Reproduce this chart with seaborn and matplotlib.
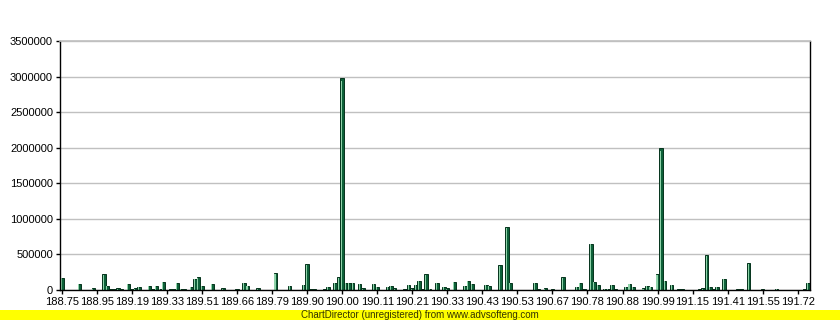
import matplotlib
matplotlib.use("Agg")
import matplotlib.pyplot as plt
from matplotlib.patches import Rectangle
import seaborn as sns
import numpy as np
import pandas as pd

# ---- data (one bar per category, label every 10th) ----
tick_labels = ["188.75", "188.95", "189.19", "189.33", "189.51", "189.66", "189.79",
               "189.90", "190.00", "190.11", "190.21", "190.33", "190.43", "190.53",
               "190.67", "190.78", "190.88", "190.99", "191.15", "191.41", "191.55",
               "191.72"]

values = [
    165000, 0, 0, 0, 0, 84000, 0, 0, 0, 25000,
    0, 0, 220000, 52000, 8000, 8000, 25000, 8000, 5000, 80000,
    8000, 28000, 38000, 5000, 5000, 52000, 8000, 52000, 12000, 108000,
    5000, 8000, 8000, 94000, 12000, 8000, 0, 38000, 150000, 178000,
    52000, 0, 0, 80000, 5000, 5000, 25000, 0, 0, 0,
    10000, 0, 100000, 52000, 5000, 0, 25000, 0, 0, 0,
    0, 234000, 0, 5000, 5000, 52000, 5000, 0, 0, 67000,
    360000, 8000, 8000, 0, 0, 8000, 38000, 5000, 94000, 178000,
    2980000, 103000, 103000, 94000, 5000, 80000, 25000, 0, 0, 80000,
    38000, 0, 0, 38000, 52000, 25000, 0, 0, 8000, 67000,
    25000, 67000, 122000, 10000, 220000, 15000, 0, 94000, 5000, 38000,
    25000, 0, 108000, 0, 0, 52000, 122000, 80000, 5000, 5000,
    5000, 67000, 52000, 0, 5000, 347000, 5000, 890000, 94000, 0,
    0, 0, 0, 0, 0, 94000, 10000, 0, 25000, 0,
    10000, 5000, 0, 178000, 3000, 0, 5000, 38000, 94000, 10000,
    0, 650000, 108000, 67000, 0, 15000, 15000, 67000, 10000, 0,
    5000, 38000, 80000, 38000, 0, 0, 25000, 52000, 38000, 0,
    220000, 1990000, 122000, 0, 67000, 0, 10000, 10000, 0, 0,
    0, 0, 10000, 25000, 491000, 38000, 10000, 38000, 5000, 150000,
    0, 0, 0, 10000, 10000, 0, 375000, 0, 0, 0,
    10000, 0, 0, 0, 15000, 5000, 0, 0, 0, 0,
    0, 0, 10000, 94000,
]

label_every = 10

# ---- figure ----
W, H, DPI = 840, 320, 100
sns.set_theme(style="white")
plt.rcParams["font.family"] = ["Liberation Sans", "DejaVu Sans"]

fig = plt.figure(figsize=(W / DPI, H / DPI), dpi=DPI, facecolor="white")
ax = fig.add_axes([60 / W, 30 / H, 750 / W, 249 / H])
ax.set_facecolor("white")

df = pd.DataFrame({"idx": np.arange(len(values)), "value": values})
sns.barplot(data=df, x="idx", y="value", ax=ax, color="#0d6139",
            width=1.0, edgecolor="#06341d", linewidth=0.7, saturation=1)

# light highlight strip inside each bar (derived from the drawn patches)
for p in list(ax.patches):
    h = p.get_height()
    if h <= 0:
        continue
    x0, w = p.get_x(), p.get_width()
    ax.add_patch(Rectangle((x0 + w * 0.2, 0), w * 0.3, h * 0.985 if h > 30000 else h * 0.6,
                           facecolor="#8fd3a9", edgecolor="none", zorder=p.get_zorder() + 0.1))

ax.set_xlim(-0.5, len(values) - 0.5)
ax.set_ylim(0, 3500000)
ax.set_yticks(np.arange(0, 3500001, 500000))
ax.set_yticklabels([str(v) for v in range(0, 3500001, 500000)])
ax.set_xticks(np.arange(0, len(values), label_every)[:len(tick_labels)])
ax.set_xticklabels(tick_labels)
ax.set_xlabel("")
ax.set_ylabel("")

ax.yaxis.grid(True, color="#c0c0c0", linewidth=1)
ax.xaxis.grid(False)
ax.set_axisbelow(True)

for s in ["left", "bottom", "right"]:
    ax.spines[s].set_visible(True)
    ax.spines[s].set_color("black")
    ax.spines[s].set_linewidth(1)
ax.spines["top"].set_visible(True)
ax.spines["top"].set_color("#c0c0c0")

ax.tick_params(axis="both", which="both", direction="out", length=3, width=1,
               color="black", labelsize=8, labelcolor="black", pad=2)
ax.tick_params(axis="y", right=False, left=True)
ax.tick_params(axis="x", bottom=True, top=False)

# yellow footer band
fig.patches.append(Rectangle((0, 0), 1, 10 / H, transform=fig.transFigure,
                             facecolor="#ffff00", edgecolor="none", zorder=0))
fig.text(0.5, 5 / H, "ChartDirector (unregistered) from www.advsofteng.com",
         ha="center", va="center", fontsize=7, color="#333300")

fig.savefig("out.png", dpi=DPI, facecolor="white")
